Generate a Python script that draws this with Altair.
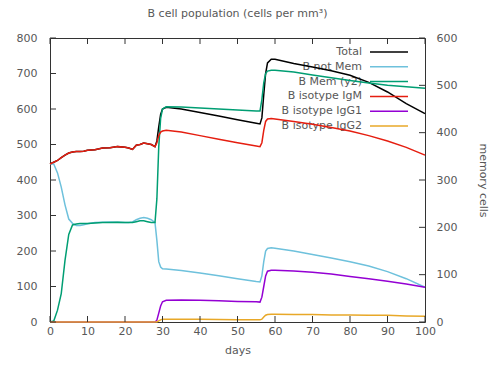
import altair as alt
import pandas as pd

# Simulation output: B cell counts over 100 days
days = [0, 1, 2, 3, 4, 5, 6, 7, 8, 9, 10, 12, 14, 16, 18, 20, 21, 22, 23, 24, 25, 26, 27, 28,
        28.5, 29, 29.5, 30, 31, 35, 40, 45, 50, 55,
        56, 56.5, 57, 57.5, 58, 59, 60, 65, 70, 75, 80, 85, 90, 95, 100]

total = [445, 450, 455, 463, 470, 476, 479, 480, 480, 481, 484, 485, 490, 491, 494, 492, 490, 486, 498, 500, 504, 502, 500, 494,
         510, 550, 585, 600, 605, 600, 590, 580, 570, 560,
         558, 575, 640, 700, 730, 740, 740, 728, 718, 708, 695, 675, 648, 615, 587]

not_mem = [445, 445, 420, 380, 330, 290, 278, 272, 272, 274, 277, 280, 281, 282, 281, 280, 280, 282, 288, 292, 294, 292, 288, 280,
           230, 170, 155, 150, 149, 145, 138, 130, 122, 114,
           113, 130, 170, 200, 207, 209, 208, 200, 190, 180, 170, 158, 142, 122, 98]

# memory cells, read on the right-hand axis
mem = [0, 2, 25, 60, 130, 185, 205, 207, 208, 208, 208, 209, 210, 210, 211, 210, 210, 210, 212, 214, 214, 212, 210, 210,
       260, 370, 430, 450, 455, 454, 452, 450, 448, 446,
       446, 470, 505, 525, 530, 532, 532, 528, 522, 516, 510, 505, 500, 497, 494]

igm = [445, 450, 455, 463, 470, 476, 479, 480, 480, 481, 484, 485, 490, 491, 494, 492, 490, 486, 498, 500, 504, 502, 500, 494,
       505, 525, 535, 538, 540, 535, 525, 515, 505, 496,
       494, 505, 540, 565, 572, 573, 572, 565, 557, 548, 538, 525, 510, 492, 470]

igg1 = [0, 0, 0, 0, 0, 0, 0, 0, 0, 0, 0, 0, 0, 0, 0, 0, 0, 0, 0, 0, 0, 0, 0, 0,
        5, 25, 45, 57, 61, 62, 61, 60, 58, 57,
        56, 70, 100, 130, 143, 146, 146, 144, 140, 135, 128, 122, 115, 107, 98]

igg2 = [0, 0, 0, 0, 0, 0, 0, 0, 0, 0, 0, 0, 0, 0, 0, 0, 0, 0, 0, 0, 0, 0, 0, 0,
        0, 3, 6, 8, 8, 8, 8, 7, 6, 6,
        6, 8, 14, 19, 21, 22, 22, 21, 21, 20, 20, 19, 19, 17, 16]

series_names = ["Total", "B not Mem", "B Mem (y2)", "B isotype IgM", "B isotype IgG1", "B isotype IgG2"]
series_colors = ["#000000", "#6ec1dc", "#009e73", "#e51e10", "#9400d3", "#e8a828"]

x_ticks = [0, 10, 20, 30, 40, 50, 60, 70, 80, 90, 100]
y_ticks = [0, 100, 200, 300, 400, 500, 600, 700, 800]
y2_ticks = [0, 100, 200, 300, 400, 500, 600]

W, H = 375, 284
FONT = "DejaVu Sans"
TEXT = "#585858"
LW = 1.5

df = pd.DataFrame({
    "day": days, "total": total, "not_mem": not_mem, "mem": mem,
    "igm": igm, "igg1": igg1, "igg2": igg2,
})

x_scale = alt.Scale(domain=[0, 100], nice=False, zero=False)
y_scale = alt.Scale(domain=[0, 800], nice=False)
y2_scale = alt.Scale(domain=[0, 600], nice=False)

x_axis = alt.Axis(values=x_ticks, title="days", labelFlush=False, labelPadding=3, titlePadding=8)
x_enc = alt.X("day:Q", scale=x_scale, axis=x_axis)


def series_line(col, color, scale, axis=None):
    return alt.Chart(df).mark_line(color=color, strokeWidth=LW).encode(
        x=x_enc,
        y=alt.Y(f"{col}:Q", scale=scale, axis=axis),
    )


left_axis = alt.Axis(values=y_ticks, orient="left", title=None, labelPadding=13)
right_axis = alt.Axis(values=y2_ticks, orient="right", title="memory cells",
                      labelPadding=11, titlePadding=21)

lines = [
    series_line("total", series_colors[0], y_scale, left_axis),
    series_line("not_mem", series_colors[1], y_scale),
    series_line("mem", series_colors[2], y2_scale, right_axis),
    series_line("igm", series_colors[3], y_scale),
    series_line("igg1", series_colors[4], y_scale),
    series_line("igg2", series_colors[5], y_scale),
]

# key in the upper right: label, then a short line sample
key_df = pd.DataFrame({"name": series_names, "row": list(range(len(series_names)))})
key_y = alt.Y("row:Q", scale=alt.Scale(domain=[0, 5], range=[14, 88]), axis=None)
key_text = alt.Chart(key_df).mark_text(
    align="right", baseline="middle", font=FONT, fontSize=11, color=TEXT
).encode(x=alt.value(312), y=key_y, text="name:N")
key_lines = alt.Chart(key_df).mark_rule(strokeWidth=LW).encode(
    x=alt.value(320), x2=alt.value(358), y=key_y,
    color=alt.Color("name:N", scale=alt.Scale(domain=series_names, range=series_colors), legend=None),
)

# inward tick marks on all four sides
xt_df = pd.DataFrame({"day": x_ticks})
yt_df = pd.DataFrame({"v": y_ticks})
y2t_df = pd.DataFrame({"v": y2_ticks})
tick_col = "#333333"
ticks_bottom = alt.Chart(xt_df).mark_rule(color=tick_col).encode(
    x=x_enc, y=alt.value(H), y2=alt.value(H - 6))
ticks_top = alt.Chart(xt_df).mark_rule(color=tick_col).encode(
    x=x_enc, y=alt.value(0), y2=alt.value(6))
ticks_left = alt.Chart(yt_df).mark_rule(color=tick_col).encode(
    y=alt.Y("v:Q", scale=y_scale, axis=None), x=alt.value(0), x2=alt.value(6))
ticks_right = alt.Chart(y2t_df).mark_rule(color=tick_col).encode(
    y=alt.Y("v:Q", scale=y2_scale, axis=None), x=alt.value(W), x2=alt.value(W - 6))

chart = alt.layer(
    key_text, *lines, key_lines, ticks_bottom, ticks_top, ticks_left, ticks_right
).resolve_scale(
    y="independent", color="independent"
).properties(
    width=W, height=H,
    title=alt.TitleParams("B cell population (cells per mm³)", font=FONT, fontSize=11,
                          fontWeight="normal", color=TEXT, anchor="middle", offset=13),
    autosize=alt.AutoSizeParams(type="none"),
    padding={"left": 50, "top": 38, "right": 64, "bottom": 47},
).configure_view(
    stroke="#333333", strokeWidth=1
).configure_axis(
    labelFont=FONT, labelFontSize=11, labelColor=TEXT,
    titleFont=FONT, titleFontSize=11, titleColor=TEXT, titleFontWeight="normal",
    grid=False, domain=False, ticks=False,
)

chart.save("out.html", embed_options={"renderer": "svg", "actions": False})
